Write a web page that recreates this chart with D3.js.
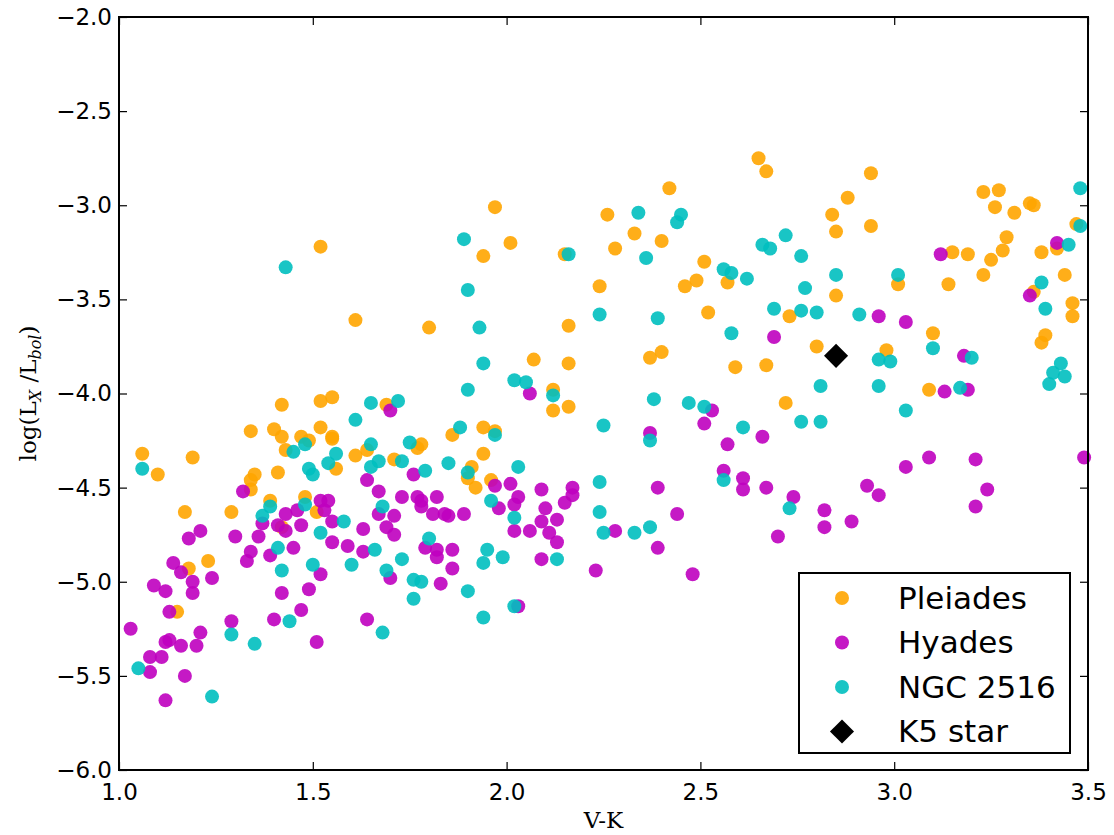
<!doctype html>
<html>
 <head>
  <meta charset='utf-8'>
  <title>X-ray activity vs V-K</title>
  <style>
    html,body{margin:0;background:#fff;}
    svg{display:block;}
    .tick text{font-family:'DejaVu Sans',sans-serif;font-size:23px;fill:#000;}
    .lab{font-family:'DejaVu Serif',serif;font-size:23px;fill:#000;}
    .leg text{font-family:'DejaVu Sans',sans-serif;font-size:31px;fill:#000;}
  </style>
 </head>
 <body>
  <div id='chart'></div>
  <script src='https://cdn.jsdelivr.net/npm/d3@7/dist/d3.min.js'></script>
  <script>

   // [V-K, log(Lx/Lbol)]
   var pleiades = [
     [1.52,-3.22],[1.61,-3.61],[1.97,-3.01],[2.01,-3.20],[1.94,-3.27],[2.15,-3.26],[2.26,-3.05],[2.24,-3.43],[2.16,-3.64],[1.80,-3.65],
     [2.65,-2.75],[2.67,-2.82],[2.42,-2.91],[2.33,-3.15],[2.40,-3.19],[2.28,-3.23],[2.51,-3.30],[2.49,-3.40],[2.46,-3.43],[2.57,-3.41],
     [2.84,-3.05],[2.88,-2.96],[2.85,-3.14],[2.85,-3.48],[2.73,-3.59],[2.52,-3.57],[2.94,-2.83],[2.94,-3.11],[3.23,-2.93],[3.27,-2.92],
     [3.26,-3.01],[3.31,-3.04],[3.35,-2.99],[3.36,-3.00],[3.47,-3.10],[3.29,-3.17],[3.28,-3.24],[3.25,-3.29],[3.15,-3.25],[3.19,-3.26],
     [3.38,-3.25],[3.42,-3.23],[3.23,-3.37],[3.01,-3.42],[3.14,-3.42],[3.44,-3.37],[3.36,-3.46],[3.46,-3.52],[3.46,-3.59],[3.10,-3.68],
     [3.39,-3.69],[3.38,-3.73],[2.98,-3.77],[3.09,-3.98],[2.80,-3.75],[2.37,-3.81],[2.40,-3.78],[2.59,-3.86],[2.67,-3.85],[2.72,-4.05],
     [2.07,-3.82],[2.16,-3.84],[2.12,-3.98],[2.12,-4.09],[2.16,-4.07],[1.69,-4.06],[1.86,-4.22],[1.94,-4.18],[1.97,-4.20],[1.64,-4.30],
     [1.78,-4.27],[1.77,-4.29],[1.94,-4.32],[1.71,-4.35],[1.91,-4.39],[1.90,-4.45],[1.96,-4.46],[1.92,-4.50],
     [1.06,-4.32],[1.10,-4.43],[1.19,-4.34],[1.17,-4.63],[1.29,-4.63],[1.34,-4.20],[1.35,-4.43],[1.34,-4.46],[1.34,-4.51],[1.41,-4.42],
     [1.42,-4.06],[1.40,-4.19],[1.42,-4.23],[1.43,-4.30],[1.47,-4.23],[1.49,-4.25],[1.52,-4.18],[1.52,-4.04],[1.55,-4.02],[1.55,-4.23],
     [1.55,-4.24],[1.56,-4.40],[1.61,-4.33],[1.39,-4.57],[1.48,-4.55],[1.51,-4.63],[1.42,-4.71],[1.23,-4.89],[1.18,-4.93],[1.15,-5.16]
   ]

   var hyades = [
     [3.12,-3.26],[3.42,-3.20],[3.35,-3.48],[2.96,-3.59],[3.03,-3.62],[3.18,-3.80],[3.13,-3.99],[3.19,-3.98],[3.09,-4.34],[3.03,-4.39],
     [3.21,-4.35],[3.49,-4.34],[2.93,-4.49],[2.96,-4.54],[3.24,-4.51],[3.21,-4.60],[2.89,-4.68],[2.69,-3.70],[2.53,-4.09],[2.51,-4.16],
     [2.66,-4.23],[2.37,-4.21],[2.57,-4.27],[2.56,-4.41],[2.61,-4.45],[2.61,-4.51],[2.67,-4.50],[2.39,-4.50],[2.74,-4.55],[2.82,-4.62],
     [2.44,-4.64],[2.28,-4.73],[2.39,-4.82],[2.48,-4.96],[2.70,-4.76],[2.82,-4.71],[2.06,-4.00],[1.70,-4.09],[1.76,-4.43],[1.97,-4.49],
     [2.01,-4.48],[1.64,-4.46],[1.67,-4.52],[1.73,-4.55],[1.77,-4.55],[1.78,-4.57],[1.82,-4.55],[1.78,-4.60],[2.03,-4.55],[2.02,-4.59],
     [1.98,-4.61],[2.09,-4.51],[2.17,-4.50],[2.17,-4.54],[2.15,-4.58],[2.10,-4.61],[1.67,-4.64],[1.71,-4.65],[1.81,-4.64],[1.84,-4.64],
     [1.85,-4.65],[1.89,-4.64],[2.13,-4.67],[2.09,-4.68],[1.69,-4.71],[1.71,-4.75],[2.02,-4.73],[2.06,-4.73],[2.11,-4.74],[2.13,-4.79],
     [1.79,-4.82],[1.82,-4.83],[1.82,-4.87],[1.86,-4.83],[2.09,-4.88],[2.23,-4.94],[1.70,-4.98],[1.86,-4.93],[1.83,-5.01],[2.03,-5.13],
     [1.64,-5.20],[1.32,-4.52],[1.52,-4.57],[1.54,-4.57],[1.53,-4.62],[1.43,-4.64],[1.46,-4.62],[1.21,-4.73],[1.18,-4.77],[1.30,-4.76],
     [1.36,-4.76],[1.37,-4.69],[1.41,-4.70],[1.43,-4.73],[1.47,-4.70],[1.55,-4.68],[1.63,-4.72],[1.45,-4.82],[1.55,-4.79],[1.59,-4.81],
     [1.63,-4.84],[1.34,-4.84],[1.33,-4.89],[1.39,-4.86],[1.52,-4.96],[1.14,-4.90],[1.16,-4.95],[1.19,-5.00],[1.24,-4.98],[1.09,-5.02],
     [1.12,-5.05],[1.19,-5.06],[1.42,-5.06],[1.49,-5.04],[1.13,-5.16],[1.47,-5.15],[1.40,-5.20],[1.29,-5.21],[1.03,-5.25],[1.21,-5.27],
     [1.13,-5.31],[1.12,-5.32],[1.16,-5.34],[1.20,-5.34],[1.51,-5.32],[1.08,-5.40],[1.11,-5.40],[1.08,-5.48],[1.17,-5.50],[1.12,-5.63]
   ]

   var ngc2516 = [
     [1.43,-3.33],[1.89,-3.18],[2.16,-3.26],[1.90,-3.45],[2.24,-3.58],[1.93,-3.65],[2.34,-3.04],[2.45,-3.05],[2.44,-3.09],[2.36,-3.28],
     [2.56,-3.34],[2.58,-3.36],[2.62,-3.39],[2.66,-3.21],[2.68,-3.23],[2.72,-3.16],[2.76,-3.27],[2.85,-3.37],[2.77,-3.44],[2.69,-3.55],
     [2.76,-3.56],[2.80,-3.57],[2.39,-3.60],[2.58,-3.68],[3.48,-2.91],[3.48,-3.11],[3.45,-3.21],[3.01,-3.37],[3.38,-3.41],[3.39,-3.55],
     [2.91,-3.58],[2.96,-3.82],[2.99,-3.83],[3.10,-3.76],[3.20,-3.81],[3.43,-3.84],[3.41,-3.89],[3.44,-3.91],[3.40,-3.95],[2.96,-3.96],
     [3.17,-3.97],[3.03,-4.09],[2.38,-4.03],[2.47,-4.05],[2.51,-4.07],[2.81,-3.96],[2.76,-4.15],[2.81,-4.15],[2.61,-4.18],[2.37,-4.25],
     [2.56,-4.46],[2.73,-4.61],[2.25,-4.74],[2.33,-4.74],[2.37,-4.71],[1.94,-3.84],[2.02,-3.93],[2.05,-3.94],[2.12,-4.01],[1.90,-3.98],
     [1.65,-4.05],[1.72,-4.04],[2.25,-4.17],[1.88,-4.18],[1.97,-4.22],[1.65,-4.27],[1.75,-4.26],[1.67,-4.36],[1.65,-4.39],[1.73,-4.36],
     [1.85,-4.37],[1.79,-4.41],[1.90,-4.42],[2.03,-4.39],[1.96,-4.57],[2.24,-4.47],[2.24,-4.63],[1.68,-4.60],[2.02,-4.66],[1.66,-4.83],
     [1.80,-4.77],[1.73,-4.88],[1.95,-4.83],[1.94,-4.90],[1.99,-4.87],[2.13,-4.88],[1.69,-4.94],[1.76,-4.99],[1.78,-5.00],[1.90,-5.05],
     [1.76,-5.09],[2.02,-5.13],[1.94,-5.19],[1.68,-5.27],[1.06,-4.40],[1.61,-4.14],[1.48,-4.27],[1.45,-4.31],[1.56,-4.32],[1.54,-4.37],
     [1.49,-4.40],[1.50,-4.43],[1.39,-4.60],[1.37,-4.65],[1.48,-4.59],[1.58,-4.68],[1.52,-4.74],[1.41,-4.82],[1.42,-4.94],[1.50,-4.91],
     [1.60,-4.91],[1.44,-5.21],[1.29,-5.28],[1.35,-5.33],[1.05,-5.46],[1.24,-5.61]
   ]

   var k5star = [[2.85,-3.80]]

   var xTicks = [1.0,1.5,2.0,2.5,3.0,3.5]
   var yTicks = [-6.0,-5.5,-5.0,-4.5,-4.0,-3.5,-3.0,-2.5,-2.0]

   var series = [
     {name:'Pleiades', data:pleiades, color:'#ffa500'},
     {name:'Hyades',   data:hyades,   color:'#bf00bf'},
     {name:'NGC 2516', data:ngc2516,  color:'#00bfbf'}
   ]

   var W = 1114, H = 835
   var m = {left:119, right:26, top:17, bottom:65}

   var svg = d3.select('#chart').append('svg')
       .attr('width',W).attr('height',H)
   svg.append('rect').attr('width',W).attr('height',H).attr('fill','#fff')

   var x = d3.scaleLinear().domain([1.0,3.5]).range([m.left, W-m.right])
   var y = d3.scaleLinear().domain([-6.0,-2.0]).range([H-m.bottom, m.top])

   var fmt = function(d){ return d3.format('.1f')(d).replace('-','\u2212') }

   // axes: ticks point inward, labels on bottom/left only
   var tl = 8
   svg.append('g').attr('transform','translate(0,'+y(-6)+')')
      .call(d3.axisBottom(x).tickValues(xTicks).tickFormat(fmt).tickSizeInner(-tl).tickSizeOuter(0).tickPadding(14))
   svg.append('g').attr('transform','translate('+x(1)+',0)')
      .call(d3.axisLeft(y).tickValues(yTicks).tickFormat(fmt).tickSizeInner(-tl).tickSizeOuter(0).tickPadding(7))
   svg.append('g').attr('transform','translate(0,'+y(-2)+')')
      .call(d3.axisTop(x).tickValues(xTicks).tickFormat('').tickSizeInner(-tl).tickSizeOuter(0))
   svg.append('g').attr('transform','translate('+x(3.5)+',0)')
      .call(d3.axisRight(y).tickValues(yTicks).tickFormat('').tickSizeInner(-tl).tickSizeOuter(0))
   svg.selectAll('.domain').remove()
   svg.selectAll('.tick line').attr('stroke','#000').attr('stroke-width',1.2)
   svg.selectAll('.tick text').attr('font-family',null).attr('font-size',null)

   // scatter
   series.forEach(function(s){
     svg.append('g').selectAll('circle').data(s.data).enter().append('circle')
        .attr('cx',function(d){ return x(d[0]) })
        .attr('cy',function(d){ return y(d[1]) })
        .attr('r',7)
        .attr('fill',s.color)
        .attr('fill-opacity',0.9)
   })

   var diamond = d3.symbol().type(d3.symbolSquare).size(290)
   svg.append('g').selectAll('path').data(k5star).enter().append('path')
      .attr('d',diamond)
      .attr('transform',function(d){ return 'translate('+x(d[0])+','+y(d[1])+') rotate(45)' })
      .attr('fill','#000')

   // frame
   svg.append('rect')
      .attr('x',x(1)).attr('y',y(-2))
      .attr('width',x(3.5)-x(1)).attr('height',y(-6)-y(-2))
      .attr('fill','none').attr('stroke','#000').attr('stroke-width',2)

   // axis labels
   svg.append('text').attr('class','lab')
      .attr('x',(x(1)+x(3.5))/2).attr('y',828)
      .attr('text-anchor','middle').text('V-K')

   var yl = svg.append('text').attr('class','lab')
      .attr('transform','translate(36,'+(y(-4))+') rotate(-90)')
      .attr('text-anchor','middle')
   yl.append('tspan').text('log(L')
   yl.append('tspan').attr('font-style','italic').attr('font-size','16px').attr('dy',5).text('X')
   yl.append('tspan').attr('dy',-5).text(' /L')
   yl.append('tspan').attr('font-style','italic').attr('font-size','16px').attr('dy',5).text('bol')
   yl.append('tspan').attr('dy',-5).text(')')

   // legend
   var leg = svg.append('g').attr('class','leg').attr('transform','translate(799,573)')
   leg.append('rect').attr('width',271).attr('height',180)
      .attr('fill','#fff').attr('stroke','#000').attr('stroke-width',2)
   var items = series.map(function(s){ return {name:s.name, color:s.color, dia:false} })
   items.push({name:'K5 star', color:'#000', dia:true})
   var row = leg.selectAll('g.item').data(items).enter().append('g')
      .attr('class','item')
      .attr('transform',function(d,i){ return 'translate(0,'+(25+i*44.5)+')' })
   row.each(function(d){
     var g = d3.select(this)
     if(d.dia){
       g.append('path').attr('d',diamond).attr('transform','translate(43,0) rotate(45)').attr('fill','#000')
     }else{
       g.append('circle').attr('cx',43).attr('r',7).attr('fill',d.color).attr('fill-opacity',0.9)
     }
     g.append('text').attr('x',99).attr('dy','0.35em').text(d.name)
   })
  </script>
 </body>
</html>
